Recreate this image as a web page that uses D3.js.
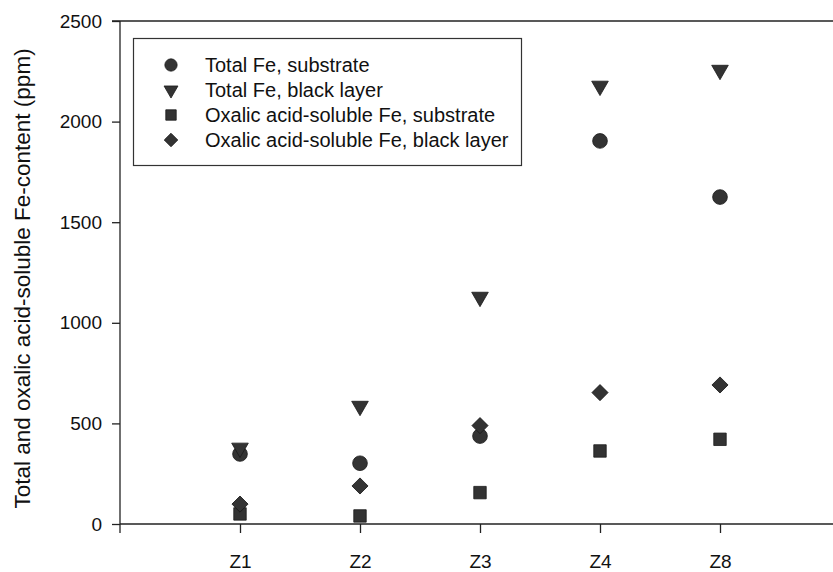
<!DOCTYPE html>
<html>
<head>
<meta charset="utf-8">
<script src="https://cdn.jsdelivr.net/npm/d3@7"></script>
<style>
  body { margin: 0; background: #fff; }
  svg { font-family: "Liberation Sans", Arial, sans-serif; }
</style>
</head>
<body>
<div id="chart"></div>
<script>
const width = 833;
const height = 572;

// données
const categories = ["Z1", "Z2", "Z3", "Z4", "Z8"];
const totalSubstrate = [348, 302, 437, 1904, 1625];
const totalBlack = [378, 586, 1128, 2177, 2256];
const oxalicSubstrate = [50, 40, 156, 363, 421];
const oxalicBlack = [99, 189, 489, 653, 691];
const yTicks = [0, 500, 1000, 1500, 2000, 2500];

const series = [
    { name: "Total Fe, substrate", values: totalSubstrate, symbol: d3.symbolCircle, size: 170, rot: 0 },
    { name: "Total Fe, black layer", values: totalBlack, symbol: d3.symbolTriangle, size: 120, rot: 180 },
    { name: "Oxalic acid-soluble Fe, substrate", values: oxalicSubstrate, symbol: d3.symbolSquare, size: 155, rot: 0 },
    { name: "Oxalic acid-soluble Fe, black layer", values: oxalicBlack, symbol: d3.symbolSquare, size: 130, rot: 45 }
];

const x = d3.scaleLinear().domain([0, categories.length + 1]).range([120, 840]);
const y = d3.scaleLinear().domain([0, 2500]).range([524, 21]);

const svg = d3.select("#chart").append("svg")
    .attr("width", width)
    .attr("height", height);

// cadre haut
svg.append("line")
    .attr("x1", 112).attr("x2", width)
    .attr("y1", y(2500)).attr("y2", y(2500))
    .attr("stroke", "#222").attr("stroke-width", 1.3);

// axe Y
const yAxis = svg.append("g")
    .attr("transform", `translate(${x(0)},0)`)
    .call(d3.axisLeft(y).tickValues(yTicks).tickFormat(d3.format("d"))
        .tickSize(8).tickSizeOuter(0).tickPadding(10));
yAxis.select(".domain").remove();
yAxis.append("line")
    .attr("y1", y(2500)).attr("y2", 533)
    .attr("stroke", "#222").attr("stroke-width", 1.3);
yAxis.selectAll(".tick line").attr("stroke", "#222").attr("stroke-width", 1.3);
yAxis.selectAll(".tick text")
    .attr("fill", "#111")
    .style("font-size", "19px");

// axe X
const xAxis = svg.append("g")
    .attr("transform", `translate(0,${y(0)})`)
    .call(d3.axisBottom(x)
        .tickValues(d3.range(1, categories.length + 1))
        .tickFormat(i => categories[i - 1])
        .tickSize(9).tickSizeOuter(0).tickPadding(22));
xAxis.select(".domain").remove();
xAxis.append("line")
    .attr("x1", x(0)).attr("x2", width)
    .attr("stroke", "#222").attr("stroke-width", 1.3);
xAxis.selectAll(".tick line").attr("stroke", "#222").attr("stroke-width", 1.3);
xAxis.selectAll(".tick text")
    .attr("fill", "#111")
    .style("font-size", "19px");

// titre axe Y
svg.append("text")
    .attr("transform", `translate(30,${(y(0) + y(2500)) / 2 + 6}) rotate(-90)`)
    .attr("text-anchor", "middle")
    .attr("fill", "#111")
    .style("font-size", "22.5px")
    .text("Total and oxalic acid-soluble Fe-content (ppm)");

const sym = d3.symbol();

// points
series.forEach(s => {
    svg.append("g").selectAll("path")
        .data(s.values)
        .enter()
        .append("path")
        .attr("d", sym.type(s.symbol).size(s.size)())
        .attr("transform", (d, i) => `translate(${x(i + 1)},${y(d)}) rotate(${s.rot})`)
        .attr("fill", "#333")
        .attr("stroke", "#1a1a1a")
        .attr("stroke-width", 0.8);
});

// légende
const legend = svg.append("g");
legend.append("rect")
    .attr("x", 133.5).attr("y", 38.5)
    .attr("width", 388).attr("height", 127)
    .attr("fill", "#fff")
    .attr("stroke", "#333").attr("stroke-width", 1.2);

const rows = legend.selectAll("g.row")
    .data(series)
    .enter()
    .append("g")
    .attr("class", "row")
    .attr("transform", (d, i) => `translate(0,${65 + i * 25})`);

rows.append("path")
    .attr("d", d => sym.type(d.symbol).size(d.size * 0.7)())
    .attr("transform", d => `translate(171,0) rotate(${d.rot})`)
    .attr("fill", "#333")
    .attr("stroke", "#1a1a1a")
    .attr("stroke-width", 0.8);

rows.append("text")
    .attr("x", 205)
    .attr("dy", "0.35em")
    .attr("fill", "#111")
    .style("font-size", "20px")
    .text(d => d.name);
</script>
</body>
</html>
